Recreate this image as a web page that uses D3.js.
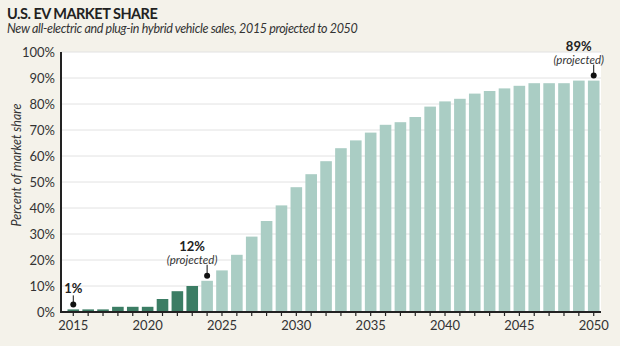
<!DOCTYPE html>
<html>
<head>
<meta charset="utf-8">
<script src="https://cdn.jsdelivr.net/npm/d3@7"></script>
<style>
  body { margin: 0; background: #f4f2ea; }
  svg { display: block; font-family: Lato, "Open Sans", sans-serif; }
</style>
</head>
<body>
<svg id="chart" width="620" height="346"></svg>
<script>
// data
var years = d3.range(2015, 2051);
var shares = [1, 1, 1, 2, 2, 2, 5, 8, 10, 12, 16, 22, 29, 35, 41, 48, 53, 58, 63, 66,
              69, 72, 73, 75, 79, 81, 82, 84, 85, 86, 87, 88, 88, 88, 89, 89];
var firstProjected = 2024;
var yTicks = [0, 10, 20, 30, 40, 50, 60, 70, 80, 90, 100];
var xLabels = [2015, 2020, 2025, 2030, 2035, 2040, 2045, 2050];
var notes = [
  { year: 2015, value: 1, label: '1%', sub: null },
  { year: 2024, value: 12, label: '12%', sub: '(projected)' },
  { year: 2050, value: 89, label: '89%', sub: '(projected)' }
];

var data = years.map(function(y, i) { return { year: y, value: shares[i] }; });

var margin = { top: 52, right: 19, bottom: 34, left: 61 },
    width = 620 - margin.left - margin.right,
    height = 346 - margin.top - margin.bottom;

var svg = d3.select('#chart');

// title
svg.append('text')
  .attr('x', 7).attr('y', 19)
  .attr('font-size', '14.5px').attr('font-weight', 'bold')
  .attr('letter-spacing', '-0.5px')
  .attr('fill', '#222')
  .text('U.S. EV MARKET SHARE');
svg.append('text')
  .attr('x', 7).attr('y', 33)
  .attr('font-size', '12.5px').attr('font-style', 'italic')
  .attr('letter-spacing', '-0.35px')
  .attr('fill', '#333')
  .text('New all-electric and plug-in hybrid vehicle sales, 2015 projected to 2050');

var g = svg.append('g')
  .attr('transform', 'translate(' + margin.left + ',' + margin.top + ')');

var x = d3.scaleBand()
  .domain(years)
  .range([5, width])
  .paddingInner(0.22)
  .paddingOuter(0.1);

var y = d3.scaleLinear()
  .domain([0, 100])
  .range([height, 0]);

// plot background
g.append('rect')
  .attr('width', width).attr('height', height)
  .attr('fill', '#ffffff');

// gridlines
g.selectAll('.grid')
  .data(yTicks.filter(function(d) { return d > 0; }))
  .enter().append('line')
  .attr('x1', 0).attr('x2', width)
  .attr('y1', function(d) { return y(d); })
  .attr('y2', function(d) { return y(d); })
  .attr('stroke', '#e2e2e2')
  .attr('stroke-width', 1);

// bars
g.selectAll('.bar')
  .data(data)
  .enter().append('rect')
  .attr('x', function(d) { return x(d.year); })
  .attr('y', function(d) { return y(d.value); })
  .attr('width', x.bandwidth())
  .attr('height', function(d) { return height - y(d.value); })
  .attr('fill', function(d) { return d.year < firstProjected ? '#3b7d64' : '#aacdc4'; });

// y axis
var yAxis = d3.axisLeft(y)
  .tickValues(yTicks)
  .tickSize(0)
  .tickPadding(6)
  .tickFormat(function(d) { return d + '%'; });

var yg = g.append('g').call(yAxis);
yg.select('.domain').remove();
yg.selectAll('text')
  .attr('font-size', '13px')
  .attr('font-family', 'Lato, "Open Sans", sans-serif')
  .attr('fill', '#333');

g.append('line')
  .attr('x1', 0).attr('x2', 0)
  .attr('y1', 0).attr('y2', height)
  .attr('stroke', '#222').attr('stroke-width', 2);

// x axis
var xAxis = d3.axisBottom(x)
  .tickSize(4)
  .tickPadding(5)
  .tickFormat(function(d) { return xLabels.indexOf(d) >= 0 ? d : ''; });

var xg = g.append('g')
  .attr('transform', 'translate(0,' + height + ')')
  .call(xAxis);
xg.select('.domain').remove();
xg.selectAll('line').attr('stroke', '#222').attr('stroke-width', 1.2);
xg.selectAll('text')
  .attr('font-size', '13px')
  .attr('font-family', 'Lato, "Open Sans", sans-serif')
  .attr('fill', '#333');

g.append('line')
  .attr('x1', -1).attr('x2', width)
  .attr('y1', height).attr('y2', height)
  .attr('stroke', '#222').attr('stroke-width', 2);

// y axis title
svg.append('text')
  .attr('transform', 'translate(21,165) rotate(-90)')
  .attr('text-anchor', 'middle')
  .attr('font-size', '12.5px').attr('font-style', 'italic')
  .attr('fill', '#333')
  .text('Percent of market share');

// annotations
notes.forEach(function(n) {
  var cx = x(n.year) + x.bandwidth() / 2;
  var dotY = y(n.value) - 5;
  var lineTop, tx;
  if (n.sub) {
    lineTop = dotY - 11;
    tx = cx - 15;
  } else {
    lineTop = dotY - 9;
    tx = cx - 9;
  }
  g.append('line')
    .attr('x1', cx).attr('x2', cx)
    .attr('y1', lineTop).attr('y2', dotY)
    .attr('stroke', '#111').attr('stroke-width', 1);
  g.append('circle')
    .attr('cx', cx).attr('cy', dotY).attr('r', 3)
    .attr('fill', '#111');
  if (n.sub) {
    g.append('text')
      .attr('x', tx).attr('y', lineTop - 1)
      .attr('text-anchor', 'middle')
      .attr('font-size', '11.5px').attr('font-style', 'italic')
      .attr('fill', '#333')
      .text(n.sub);
    g.append('text')
      .attr('x', tx).attr('y', lineTop - 14)
      .attr('text-anchor', 'middle')
      .attr('font-size', '13px').attr('font-weight', 'bold')
      .attr('fill', '#222')
      .text(n.label);
  } else {
    g.append('text')
      .attr('x', tx).attr('y', lineTop - 2)
      .attr('text-anchor', 'start')
      .attr('font-size', '13px').attr('font-weight', 'bold')
      .attr('fill', '#222')
      .text(n.label);
  }
});
</script>
</body>
</html>
